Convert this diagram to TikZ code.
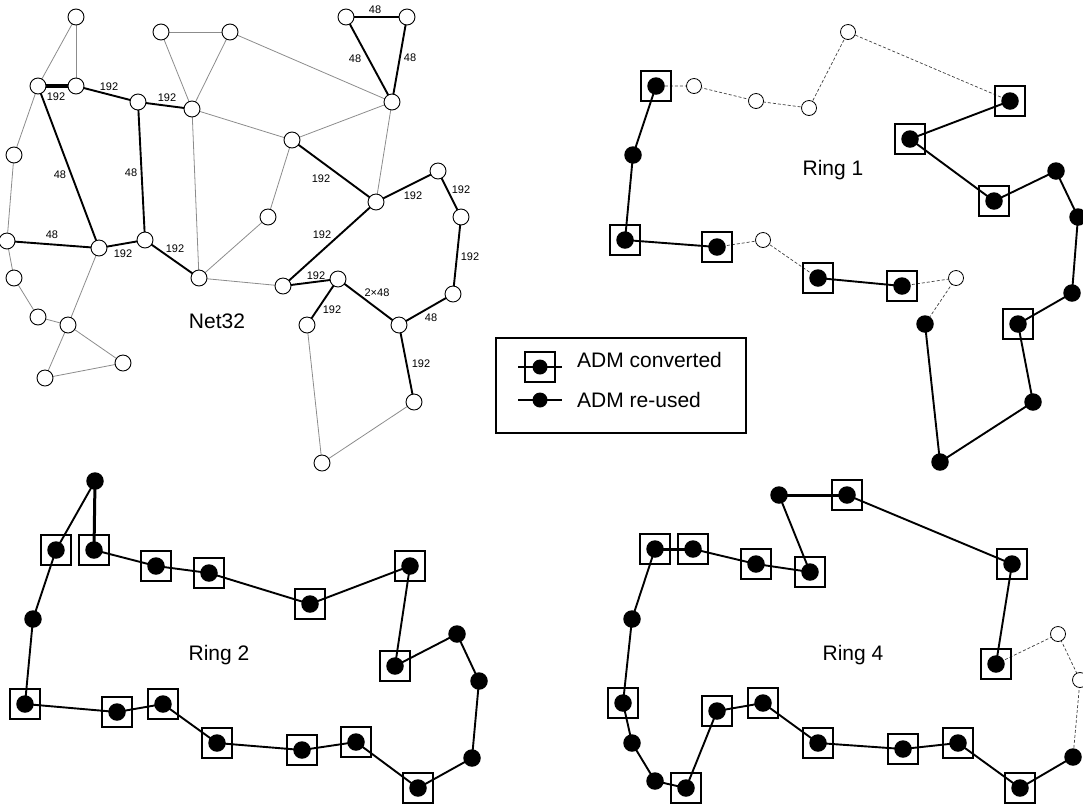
\documentclass[tikz,border=0pt]{standalone}
\usepackage{fontspec}
\setmainfont{Liberation Sans}
\usetikzlibrary{backgrounds}
\tikzset{
 onode/.style={circle,draw,line width=0.9pt,fill=white,inner sep=0pt,minimum size=16pt},
 odot/.style={circle,draw,line width=0.8pt,fill=white,inner sep=0pt,minimum size=15pt},
 reuse/.style={circle,fill=black,inner sep=0pt,minimum size=17.5pt},
 conv/.style={rectangle,draw,line width=1.9pt,inner sep=0pt,minimum size=30.5pt,
   path picture={\fill (path picture bounding box.center) circle (8.75pt);}},
 grayedge/.style={line width=0.8pt,black!45},
 capedge/.style={line width=1.9pt},
 fatedge/.style={line width=3.2pt},
 ring/.style={line width=1.9pt},
 ringfat/.style={line width=3pt},
 dashring/.style={line width=0.7pt,black!75,dash pattern=on 3pt off 2pt},
 lab/.style={font=\fontsize{11}{13}\selectfont,inner sep=0pt},
 ttl/.style={font=\fontsize{21}{25}\selectfont,inner sep=0pt,anchor=base},
 legtext/.style={font=\fontsize{21}{25}\selectfont,inner sep=0pt,anchor=base west},
}
\begin{document}
\begin{tikzpicture}[x=1pt,y=-1pt]
\useasboundingbox (0,0) rectangle (1083,804);
% ---------------- Net32 ----------------
\node[onode] (nA1) at (76,17) {};
\node[onode] (nA2) at (161,32) {};
\node[onode] (nA3) at (230,32) {};
\node[onode] (nB1) at (38,86) {};
\node[onode] (nB2) at (76,86) {};
\node[onode] (nB3) at (138,102) {};
\node[onode] (nB4) at (192,109) {};
\node[onode] (nC1) at (14,155) {};
\node[onode] (nT1) at (346,17) {};
\node[onode] (nT2) at (407,17) {};
\node[onode] (nT3) at (392,102) {};
\node[onode] (nD1) at (292,140) {};
\node[onode] (nE1) at (376,202) {};
\node[onode] (nF1) at (438,171) {};
\node[onode] (nF2) at (461,217) {};
\node[onode] (nG1) at (268,217) {};
\node[onode] (nH1) at (7,241) {};
\node[onode] (nH2) at (99,248) {};
\node[onode] (nH3) at (145,240) {};
\node[onode] (nH4) at (199,278) {};
\node[onode] (nI1) at (14,278) {};
\node[onode] (nI2) at (38,317) {};
\node[onode] (nI3) at (68,325) {};
\node[onode] (nI4) at (123,363) {};
\node[onode] (nI5) at (45,378) {};
\node[onode] (nJ1) at (283,286) {};
\node[onode] (nJ2) at (338,279) {};
\node[onode] (nJ3) at (307,325) {};
\node[onode] (nJ4) at (399,325) {};
\node[onode] (nJ5) at (453,294) {};
\node[onode] (nJ6) at (414,402) {};
\node[onode] (nJ7) at (322,463) {};
\begin{scope}[on background layer]
 \draw[grayedge] (nA1.center) -- (nB1.center);
 \draw[grayedge] (nA1.center) -- (nB2.center);
 \draw[grayedge] (nA2.center) -- (nA3.center);
 \draw[grayedge] (nA2.center) -- (nB4.center);
 \draw[grayedge] (nA3.center) -- (nB4.center);
 \draw[grayedge] (nA3.center) -- (nT3.center);
 \draw[grayedge] (nB4.center) -- (nD1.center);
 \draw[grayedge] (nD1.center) -- (nT3.center);
 \draw[grayedge] (nT3.center) -- (nE1.center);
 \draw[grayedge] (nD1.center) -- (nG1.center);
 \draw[grayedge] (nG1.center) -- (nH4.center);
 \draw[grayedge] (nB4.center) -- (nH4.center);
 \draw[grayedge] (nB1.center) -- (nC1.center);
 \draw[grayedge] (nC1.center) -- (nH1.center);
 \draw[grayedge] (nH1.center) -- (nI1.center);
 \draw[grayedge] (nI1.center) -- (nI2.center);
 \draw[grayedge] (nI2.center) -- (nI3.center);
 \draw[grayedge] (nH2.center) -- (nI3.center);
 \draw[grayedge] (nI3.center) -- (nI4.center);
 \draw[grayedge] (nI3.center) -- (nI5.center);
 \draw[grayedge] (nI5.center) -- (nI4.center);
 \draw[grayedge] (nH4.center) -- (nJ1.center);
 \draw[grayedge] (nJ3.center) -- (nJ7.center);
 \draw[grayedge] (nJ7.center) -- (nJ6.center);
 \draw[fatedge] (nB1.center) -- (nB2.center);
 \draw[capedge] (nB2.center) -- (nB3.center);
 \draw[capedge] (nB3.center) -- (nB4.center);
 \draw[capedge] (nB1.center) -- (nH2.center);
 \draw[capedge] (nB3.center) -- (nH3.center);
 \draw[capedge] (nH1.center) -- (nH2.center);
 \draw[capedge] (nH2.center) -- (nH3.center);
 \draw[capedge] (nH3.center) -- (nH4.center);
 \draw[capedge] (nT1.center) -- (nT2.center);
 \draw[capedge] (nT1.center) -- (nT3.center);
 \draw[capedge] (nT2.center) -- (nT3.center);
 \draw[capedge] (nD1.center) -- (nE1.center);
 \draw[capedge] (nE1.center) -- (nF1.center);
 \draw[capedge] (nF1.center) -- (nF2.center);
 \draw[capedge] (nF2.center) -- (nJ5.center);
 \draw[capedge] (nE1.center) -- (nJ1.center);
 \draw[capedge] (nJ1.center) -- (nJ2.center);
 \draw[capedge] (nJ2.center) -- (nJ3.center);
 \draw[capedge] (nJ2.center) -- (nJ4.center);
 \draw[capedge] (nJ4.center) -- (nJ5.center);
 \draw[capedge] (nJ4.center) -- (nJ6.center);
\end{scope}
\node[lab] (l1) at (56,97) {192};
\node[lab] (l2) at (109,87) {192};
\node[lab] (l3) at (167,98) {192};
\node[lab] (l4) at (60,175) {48};
\node[lab] (l5) at (131,173) {48};
\node[lab] (l6) at (52,235) {48};
\node[lab] (l7) at (123,254) {192};
\node[lab] (l8) at (175,249) {192};
\node[lab] (l9) at (375,10) {48};
\node[lab] (l10) at (355,59) {48};
\node[lab] (l11) at (410,58) {48};
\node[lab] (l12) at (321,179) {192};
\node[lab] (l13) at (413,196) {192};
\node[lab] (l14) at (461,190) {192};
\node[lab] (l15) at (322,235) {192};
\node[lab] (l16) at (316,276) {192};
\node[lab] (l17) at (332,310) {192};
\node[lab] (l18) at (377,293) {2×48};
\node[lab] (l19) at (431,318) {48};
\node[lab] (l20) at (421,364) {192};
\node[lab] (l21) at (470,257) {192};
\node[ttl] (net) at (217,328) {Net32};
% ---------------- Ring 1 ----------------
\node[conv] (a1) at (656,86) {};
\node[odot] (a2) at (694,86) {};
\node[odot] (a3) at (756,101) {};
\node[odot] (a4) at (809,108) {};
\node[odot] (a5) at (848,32) {};
\node[conv] (a6) at (1010,101) {};
\node[conv] (a7) at (910,139) {};
\node[conv] (a8) at (994,201) {};
\node[reuse] (a9) at (1056,171) {};
\node[reuse] (a10) at (1078,217) {};
\node[reuse] (a11) at (1072,293) {};
\node[conv] (a12) at (1018,324) {};
\node[reuse] (a13) at (1033,402) {};
\node[reuse] (a14) at (940,462) {};
\node[reuse] (a15) at (925,324) {};
\node[odot] (a16) at (956,278) {};
\node[conv] (a17) at (902,286) {};
\node[conv] (a18) at (818,278) {};
\node[odot] (a19) at (763,240) {};
\node[conv] (a20) at (717,247) {};
\node[conv] (a21) at (625,240) {};
\node[reuse] (a22) at (633,155) {};
\begin{scope}[on background layer]
 \draw[ring] (a1.center) -- (a22.center) -- (a21.center) -- (a20.center);
 \draw[dashring] (a20.center) -- (a19.center) -- (a18.center);
 \draw[ring] (a18.center) -- (a17.center);
 \draw[dashring] (a17.center) -- (a16.center) -- (a15.center);
 \draw[ring] (a15.center) -- (a14.center) -- (a13.center) -- (a12.center) -- (a11.center) -- (a10.center) -- (a9.center) -- (a8.center) -- (a7.center) -- (a6.center);
 \draw[dashring] (a6.center) -- (a5.center) -- (a4.center) -- (a3.center) -- (a2.center) -- (a1.center);
\end{scope}
\node[ttl] (r1) at (833,175) {Ring 1};
% ---------------- Ring 2 ----------------
\node[reuse] (b1) at (95,481) {};
\node[conv] (b2) at (56,550) {};
\node[conv] (b3) at (94,550) {};
\node[conv] (b4) at (156,566) {};
\node[conv] (b5) at (209,573) {};
\node[conv] (b6) at (310,604) {};
\node[conv] (b7) at (410,566) {};
\node[conv] (b8) at (395,666) {};
\node[reuse] (b9) at (457,634) {};
\node[reuse] (b10) at (479,681) {};
\node[reuse] (b11) at (472,758) {};
\node[conv] (b12) at (418,788) {};
\node[conv] (b13) at (356,742) {};
\node[conv] (b14) at (302,750) {};
\node[conv] (b15) at (217,743) {};
\node[conv] (b16) at (163,704) {};
\node[conv] (b17) at (117,712) {};
\node[conv] (b18) at (25,704) {};
\node[reuse] (b19) at (33,619) {};
\begin{scope}[on background layer]
 \draw[ring] (b1.center) -- (b2.center);
 \draw[ringfat] (b1.center) -- (b3.center);
 \draw[ring] (b2.center) -- (b19.center) -- (b18.center) -- (b17.center) -- (b16.center) -- (b15.center) -- (b14.center) -- (b13.center) -- (b12.center) -- (b11.center) -- (b10.center) -- (b9.center) -- (b8.center) -- (b7.center) -- (b6.center) -- (b5.center) -- (b4.center) -- (b3.center);
\end{scope}
\node[ttl] (r2) at (219,660) {Ring 2};
% ---------------- Ring 4 ----------------
\node[reuse] (c1) at (779,495) {};
\node[conv] (c2) at (847,495) {};
\node[conv] (c3) at (1012,564) {};
\node[conv] (c4) at (996,664) {};
\node[odot] (c5) at (1058,634) {};
\node[odot] (c6) at (1080,680) {};
\node[reuse] (c7) at (1073,757) {};
\node[conv] (c8) at (1020,788) {};
\node[conv] (c9) at (958,743) {};
\node[conv] (c10) at (903,749) {};
\node[conv] (c11) at (818,743) {};
\node[conv] (c12) at (763,703) {};
\node[conv] (c13) at (717,711) {};
\node[conv] (c14) at (686,788) {};
\node[reuse] (c15) at (655,781) {};
\node[reuse] (c16) at (632,743) {};
\node[conv] (c17) at (623,703) {};
\node[reuse] (c18) at (632,619) {};
\node[conv] (c19) at (655,549) {};
\node[conv] (c20) at (693,549) {};
\node[conv] (c21) at (756,564) {};
\node[conv] (c22) at (810,572) {};
\begin{scope}[on background layer]
 \draw[ringfat] (c1.center) -- (c2.center);
 \draw[ring] (c2.center) -- (c3.center) -- (c4.center);
 \draw[dashring] (c4.center) -- (c5.center) -- (c6.center) -- (c7.center);
 \draw[ring] (c7.center) -- (c8.center) -- (c9.center) -- (c10.center) -- (c11.center) -- (c12.center) -- (c13.center) -- (c14.center) -- (c15.center) -- (c16.center) -- (c17.center) -- (c18.center) -- (c19.center);
 \draw[ringfat] (c19.center) -- (c20.center);
 \draw[ring] (c20.center) -- (c21.center) -- (c22.center) -- (c1.center);
\end{scope}
\node[ttl] (r4) at (853,660) {Ring 4};
% ---------------- Legend ----------------
\node[draw,line width=1.6pt,rectangle,minimum width=250pt,minimum height=95pt,inner sep=0pt] (leg) at (621,385.5) {};
\node[rectangle,draw,line width=1.4pt,inner sep=0pt,minimum size=30pt,
   path picture={\fill (path picture bounding box.center) circle (7.5pt);}] (lgc) at (540,367) {};
\node[circle,fill=black,inner sep=0pt,minimum size=15pt] (lgr) at (540,400) {};
\coordinate (lg1l) at (518,367);
\coordinate (lg1r) at (562,367);
\coordinate (lg2l) at (518,400);
\coordinate (lg2r) at (562,400);
\begin{scope}[on background layer]
 \draw[ring] (lg1l) -- (lgc.center) -- (lg1r);
 \draw[ring] (lg2l) -- (lgr.center) -- (lg2r);
\end{scope}
\node[legtext] (lt1) at (577,367) {ADM converted};
\node[legtext] (lt2) at (577,407) {ADM re-used};
\end{tikzpicture}
\end{document}
